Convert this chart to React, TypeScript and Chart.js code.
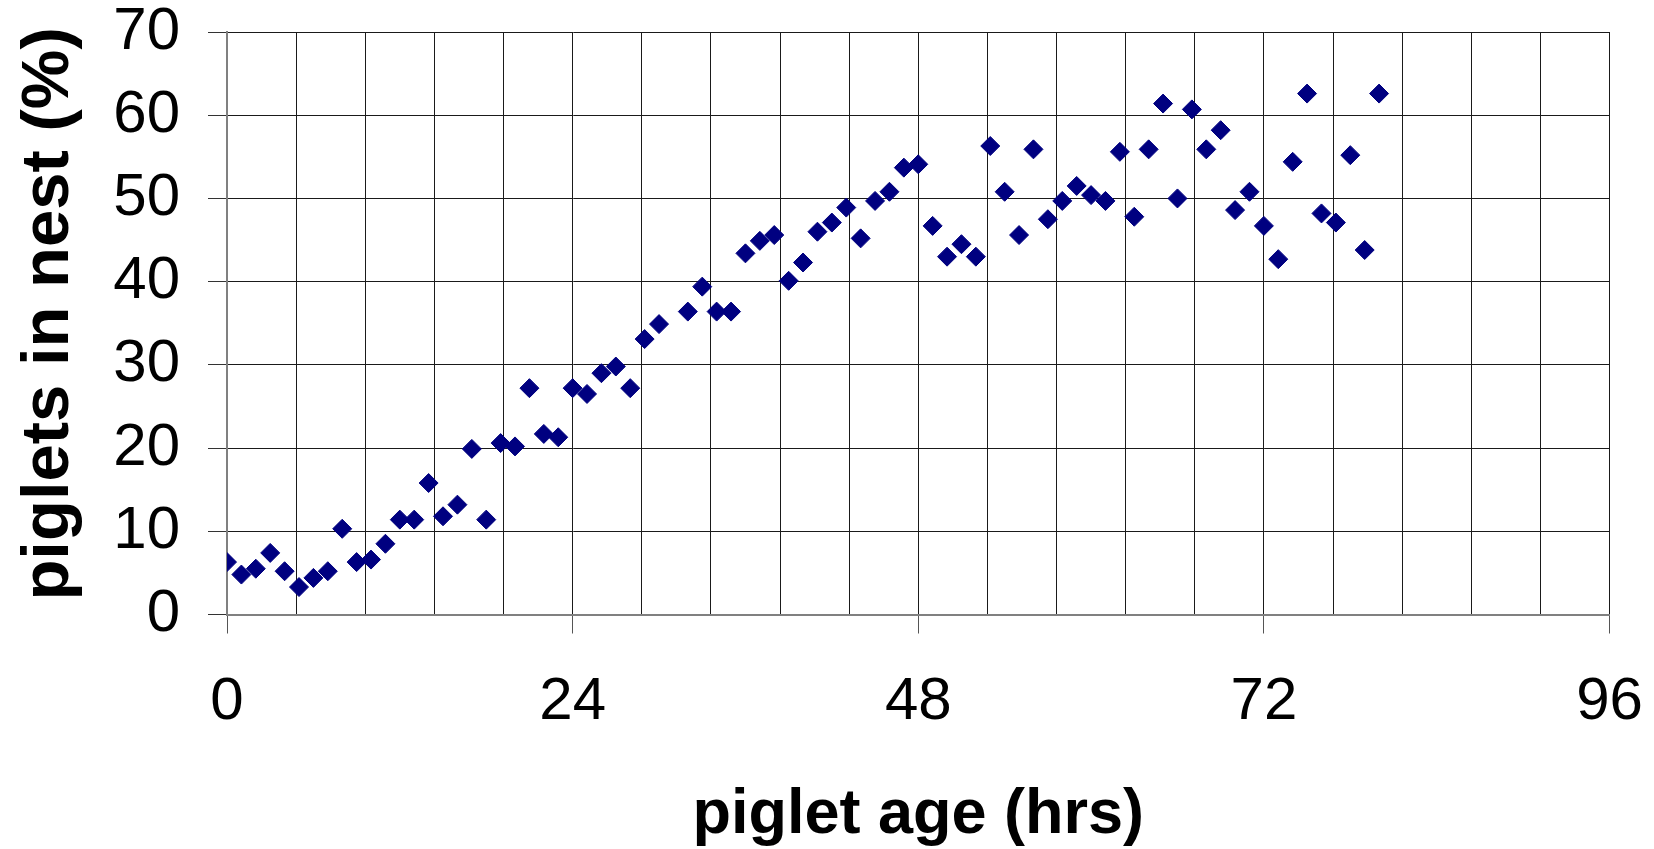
import React, { useEffect, useRef } from "react";
import { Chart, registerables } from "chart.js";

Chart.register(...registerables);

const hours: number[] = [
  0, 1, 2, 3, 4, 5, 6, 7, 8, 9, 10, 11, 12, 13, 14, 15, 16, 17, 18, 19, 20,
  21, 22, 23, 24, 25, 26, 27, 28, 29, 30, 32, 33, 34, 35, 36, 37, 38, 39, 40,
  41, 42, 43, 44, 45, 46, 47, 48, 49, 50, 51, 52, 53, 54, 55, 56, 57, 58, 59,
  60, 61, 62, 63, 64, 65, 66, 67, 68, 69, 70, 71, 72, 73, 74, 75, 76, 77, 78,
  79, 80,
];

const pigletsInNest: number[] = [
  6.3, 4.8, 5.5, 7.4, 5.2, 3.3, 4.4, 5.2, 10.3, 6.3, 6.6, 8.5, 11.4, 11.4,
  15.8, 11.8, 13.2, 19.9, 11.4, 20.6, 20.2, 27.2, 21.7, 21.3, 27.2, 26.5, 29.0,
  29.8, 27.2, 33.1, 34.9, 36.4, 39.4, 36.4, 36.4, 43.4, 44.9, 45.6, 40.1, 42.3,
  46.0, 47.1, 48.9, 45.2, 49.7, 50.8, 53.7, 54.1, 46.7, 43.0, 44.5, 43.0, 56.3,
  50.8, 45.6, 55.9, 47.5, 49.7, 51.5, 50.4, 49.7, 55.6, 47.8, 55.9, 61.4, 50.0,
  60.7, 55.9, 58.2, 48.6, 50.8, 46.7, 42.7, 54.4, 62.6, 48.2, 47.1, 55.2, 43.8,
  62.6,
];

const xTickLabels: number[] = [0, 24, 48, 72, 96];
const yTickLabels: number[] = [0, 10, 20, 30, 40, 50, 60, 70];
const xGridStep = 4.8;

const xTitle = "piglet age (hrs)";
const yTitle = " piglets in nest (%)";

const FONT = "'Liberation Sans', Arial, sans-serif";

function isLabeled(v: number): boolean {
  return xTickLabels.some((t) => Math.abs(t - v) < 1e-6);
}

export default function App() {
  const canvasRef = useRef<HTMLCanvasElement | null>(null);

  useEffect(() => {
    const canvas = canvasRef.current;
    if (!canvas) return;
    const data = hours.map((h, i) => ({ x: h, y: pigletsInNest[i] }));
    const chart = new Chart(canvas, {
      type: "scatter",
      data: {
        datasets: [
          {
            data,
            pointStyle: "rectRot",
            pointRadius: 9.5,
            pointHoverRadius: 9.5,
            backgroundColor: "#000080",
            borderColor: "#000080",
            borderWidth: 1,
          },
        ],
      },
      options: {
        animation: false,
        responsive: true,
        maintainAspectRatio: false,
        layout: { padding: { top: 32, right: 44.5, bottom: 0, left: 0 } },
        plugins: {
          legend: { display: false },
          tooltip: { enabled: false },
        },
        scales: {
          x: {
            type: "linear",
            min: 0,
            max: 96,
            afterBuildTicks: (scale: any) => {
              const n = Math.round(96 / xGridStep);
              const t = [];
              for (let i = 0; i <= n; i++) t.push({ value: +(i * xGridStep).toFixed(4) });
              scale.ticks = t;
            },
            afterFit: (scale: any) => {
              scale.height = 234.5;
              scale.paddingLeft = 0;
              scale.paddingRight = 0;
            },
            ticks: {
              autoSkip: false,
              maxRotation: 0,
              minRotation: 0,
              padding: 33,
              color: "#000",
              font: { family: FONT, size: 60 },
              callback: (v: any) => (isLabeled(Number(v)) ? String(Math.round(Number(v))) : ""),
            },
            grid: {
              color: "#1a1a1a",
              lineWidth: 1,
              tickLength: 19,
              tickColor: (ctx: any) =>
                ctx.tick && isLabeled(ctx.tick.value) ? "#555" : "rgba(0,0,0,0)",
            },
            border: { display: true, color: "#808080", width: 2 },
            title: {
              display: true,
              text: xTitle,
              color: "#000",
              font: { family: FONT, size: 63, weight: "bold", lineHeight: 1 },
              padding: { top: 0, bottom: 2 },
            },
          },
          y: {
            type: "linear",
            min: 0,
            max: 70,
            afterBuildTicks: (scale: any) => {
              scale.ticks = yTickLabels.map((v) => ({ value: v }));
            },
            afterFit: (scale: any) => {
              scale.width = 227;
              scale.paddingTop = 0;
              scale.paddingBottom = 0;
            },
            ticks: {
              padding: 28,
              color: "#000",
              font: { family: FONT, size: 60 },
              callback: (v: any) => String(v),
            },
            grid: {
              color: "#1a1a1a",
              lineWidth: 1,
              tickLength: 19,
              tickColor: "#333",
            },
            border: { display: true, color: "#808080", width: 2 },
            title: {
              display: true,
              text: yTitle,
              color: "#000",
              font: { family: FONT, size: 67, weight: "bold", lineHeight: 1 },
              padding: { top: 16, bottom: 0 },
            },
          },
        },
      },
    });
    return () => chart.destroy();
  }, []);

  return (
    <div
      style={{
        position: "fixed",
        left: 0,
        top: 0,
        width: 1654,
        height: 849,
        background: "#fff",
      }}
    >
      <canvas ref={canvasRef} />
    </div>
  );
}
